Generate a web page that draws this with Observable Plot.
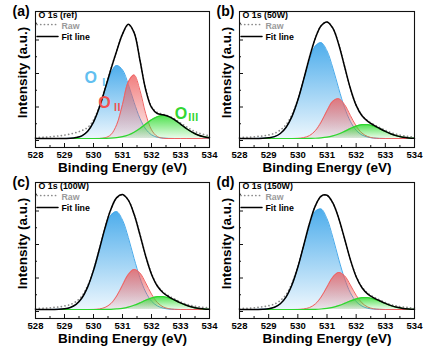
<!DOCTYPE html>
<html><head><meta charset="utf-8">
<script src="https://cdn.jsdelivr.net/npm/d3@7"></script>
<script src="https://cdn.jsdelivr.net/npm/@observablehq/plot@0.6"></script>
<style>
html,body{margin:0;padding:0;background:#fff;}
#fig{position:relative;width:427px;height:351px;overflow:hidden;background:#fff;}
#fig svg{position:absolute;}
</style></head><body><div id="fig"></div>
<script>
// Binding energy grid (eV)
const energy = [528.0,528.2,528.4,528.6,528.8,529.0,529.2,529.4,529.6,529.8,530.0,530.2,530.4,530.6,530.8,531.0,531.2,531.4,531.6,531.8,532.0,532.2,532.4,532.6,532.8,533.0,533.2,533.4,533.6,533.8,534.0];
const xTicks = [528,529,530,531,532,533,534];
const xMinorTicks = [528.5,529.5,530.5,531.5,532.5,533.5];
const yTicks = [-2,31.5,65,98.5];
const yMinorTicks = [14.75,48.25,81.75,115.25];

// (a) ref
const refOI   = [0,0,0,0,0,0.05,0.2,0.9,2.7,7.3,16.4,30.8,48.9,65.1,72.9,68.6,54.2,36.1,20.2,9.5,3.7,1.2,0.4,0.1,0,0,0,0,0,0,0];
const refOII  = [0,0,0,0,0,0,0,0,0,0,0,0.1,0.7,3.8,13.8,34.0,56.5,63.5,48.3,24.9,8.7,2.0,0.3,0,0,0,0,0,0,0,0];
const refOIII = [0,0,0,0,0,0,0,0,0,0,0,0,0.1,0.3,0.8,1.8,3.5,6.3,10.0,14.4,18.7,21.8,23.0,21.8,18.7,14.4,10.0,6.3,3.5,1.8,0.8];
const refFit  = [0,0,0,0,0,0.1,0.2,0.9,2.7,7.3,16.4,30.9,49.7,69.2,87.5,104.4,114.2,105.9,78.5,48.8,31.1,25.0,23.7,21.9,18.7,14.4,10.0,6.3,3.5,1.8,0.8];
const refRaw  = [1.0,1.2,1.5,2.0,2.6,3.4,4.5,6.0,8.0,11.0,18.5,32.0,50.5,69.5,88.0,104.5,113.5,106.0,79.0,49.5,32.0,26.0,24.2,22.3,19.5,15.5,11.8,8.4,5.8,4.0,2.8];

// (b) 50W
const w50OI   = [0,0,0,0.1,0.2,0.7,1.9,5.0,11.3,22.1,38.2,58.2,78.1,92.2,95.8,87.6,70.5,50.0,31.1,17.2,8.2,3.5,1.4,0.4,0.1,0,0,0,0,0,0];
const w50OII  = [0,0,0,0,0,0,0,0,0,0,0.2,0.9,2.9,7.8,16.4,27.7,37.2,39.8,34.0,23.1,12.5,5.4,1.9,0.5,0.1,0,0,0,0,0,0];
const w50OIII = [0,0,0,0,0,0,0,0,0,0,0,0,0.1,0.25,0.6,1.3,2.6,4.5,7.1,9.9,12.4,13.8,13.8,12.4,9.9,7.1,4.5,2.6,1.3,0.6,0.25];
const w50Fit  = [0,0,0,0.1,0.2,0.7,1.9,5.0,11.3,22.1,38.4,59.1,81.1,100.3,112.8,116.6,110.3,94.3,72.2,50.2,33.1,22.7,17.1,13.3,10.1,7.1,4.5,2.6,1.3,0.6,0.25];
const w50Raw  = [1.0,1.2,1.5,2.0,2.6,3.6,5.2,8.5,14.0,24.0,39.0,59.5,81.5,100.5,113.0,116.5,110.5,94.5,72.5,50.5,33.5,23.2,17.6,14.0,11.0,8.2,5.8,4.0,2.8,2.0,1.5];

// (c) 100W
const w100OI   = [0,0,0,0.1,0.2,0.7,2.0,5.1,11.5,22.6,39.0,59.4,79.7,94.1,97.8,89.4,72.0,51.0,31.8,17.5,8.4,3.6,1.4,0.4,0.1,0,0,0,0,0,0];
const w100OII  = [0,0,0,0,0,0,0,0,0,0,0.1,0.6,2.1,5.9,13.5,24.3,34.9,40.0,36.5,26.6,15.4,7.1,2.6,0.8,0.2,0,0,0,0,0,0];
const w100OIII = [0,0,0,0,0,0,0,0,0,0,0,0,0.1,0.2,0.6,1.2,2.4,4.2,6.6,9.2,11.5,12.8,12.8,11.5,9.2,6.6,4.2,2.4,1.2,0.6,0.2];
const w100Fit  = [0,0,0,0.1,0.2,0.7,2.0,5.1,11.5,22.6,39.1,60.0,81.9,100.2,111.9,114.9,109.3,95.2,74.9,53.3,35.3,23.5,16.8,12.7,9.5,6.6,4.2,2.4,1.2,0.6,0.2];
const w100Raw  = [1.0,1.2,1.5,2.0,2.6,3.5,5.0,8.0,13.5,24.0,39.5,60.0,82.0,100.0,111.5,114.5,109.5,95.5,75.5,54.0,36.0,24.2,17.5,13.5,10.4,7.6,5.4,3.8,2.8,2.1,1.6];

// (d) 150W
const w150OI   = [0,0,0,0.1,0.3,0.8,2.3,5.8,12.7,24.7,42.2,63.4,84.0,97.9,100.4,90.7,72.1,50.4,31.1,16.8,8.0,3.4,1.2,0.4,0.1,0,0,0,0,0,0];
const w150OII  = [0,0,0,0,0,0,0,0,0,0,0.1,0.6,1.9,5.5,12.5,22.5,32.3,37.0,33.8,24.6,14.2,6.6,2.4,0.7,0.2,0,0,0,0,0,0];
const w150OIII = [0,0,0,0,0,0,0,0,0,0,0,0,0.1,0.2,0.5,1.1,2.2,3.9,6.1,8.5,10.6,11.8,11.8,10.6,8.5,6.1,3.9,2.2,1.1,0.5,0.2];
const w150Fit  = [0,0,0,0.1,0.3,0.8,2.3,5.8,12.7,24.7,42.3,64.0,86.0,103.6,113.4,114.3,106.6,91.3,71.0,49.9,32.8,21.8,15.4,11.7,8.8,6.1,3.9,2.2,1.1,0.5,0.2];
const w150Raw  = [1.0,1.2,1.5,2.0,2.7,3.8,5.5,9.0,15.0,26.5,43.0,64.5,86.0,103.5,113.0,114.0,106.5,91.5,71.5,50.5,33.5,22.5,16.2,12.5,9.6,7.0,4.8,3.4,2.5,1.9,1.5];

const panelTags = ["(a)","(b)","(c)","(d)"];
const panelNames = ["O 1s (ref)","O 1s (50W)","O 1s (100W)","O 1s (150W)"];
const legendNames = ["Raw","Fit line"];
const peakNames = ["Ⅰ","Ⅱ","Ⅲ"];

const series = [
  [refOI, refOII, refOIII, refFit, refRaw],
  [w50OI, w50OII, w50OIII, w50Fit, w50Raw],
  [w100OI, w100OII, w100OIII, w100Fit, w100Raw],
  [w150OI, w150OII, w150OIII, w150Fit, w150Raw]
];

const yDomain = [-9, 127];
const FONT = "Liberation Sans, Arial, Helvetica, sans-serif";
const NS = "http://www.w3.org/2000/svg";
const curve = "catmull-rom";

function gradientDefs(id) {
  return () => {
    const defs = document.createElementNS(NS, "defs");
    const specs = [["b", "#3ea6ea", 0.92, 0.1], ["r", "#ee5e5e", 0.8, 0.1], ["g", "#33dd33", 0.88, 0.1]];
    for (const [k, c, o1, o2] of specs) {
      const g = document.createElementNS(NS, "linearGradient");
      g.setAttribute("id", id + k);
      g.setAttribute("x1", 0); g.setAttribute("y1", 0); g.setAttribute("x2", 0); g.setAttribute("y2", 1);
      for (const [off, op] of [[0, o1], [1, o2]]) {
        const s = document.createElementNS(NS, "stop");
        s.setAttribute("offset", off);
        s.setAttribute("stop-color", c);
        s.setAttribute("stop-opacity", op);
        g.appendChild(s);
      }
      defs.appendChild(g);
    }
    return defs;
  };
}

function legendLines(index, scales, values, dims) {
  const g = document.createElementNS(NS, "g");
  const x0 = dims.marginLeft + 2, x1 = dims.marginLeft + 23;
  const specs = [[dims.marginTop + 13.5, "#8a8a8a", "0.1 3.6", 1.7], [dims.marginTop + 25.5, "#000", null, 1.5]];
  for (const [y, c, dash, w] of specs) {
    const l = document.createElementNS(NS, "line");
    l.setAttribute("x1", x0); l.setAttribute("x2", x1);
    l.setAttribute("y1", y); l.setAttribute("y2", y);
    l.setAttribute("stroke", c); l.setAttribute("stroke-width", w);
    l.setAttribute("stroke-linecap", "round");
    if (dash) l.setAttribute("stroke-dasharray", dash);
    g.appendChild(l);
  }
  return g;
}

function makePanel(i, width) {
  const [oI, oII, oIII, fit, raw] = series[i];
  const rows = energy.map((e, k) => ({e, oI: oI[k], oII: oII[k], oIII: oIII[k], fit: fit[k], raw: raw[k]}));
  const id = "grad" + i;
  const xSpan = 534 - 528;
  const tickX = 4 * xSpan / (width - 39);
  const bold = {fontFamily: FONT, fontWeight: "bold", fill: "#000"};
  const marks = [
    gradientDefs(id),
    Plot.areaY(rows, {x: "e", y: "oI", fill: `url(#${id}b)`, curve}),
    Plot.lineY(rows, {x: "e", y: "oI", stroke: "#47a9ea", strokeWidth: 1, curve}),
    Plot.areaY(rows, {x: "e", y: "oII", fill: `url(#${id}r)`, curve}),
    Plot.lineY(rows, {x: "e", y: "oII", stroke: "#f06262", strokeWidth: 1, curve}),
    Plot.areaY(rows, {x: "e", y: "oIII", fill: `url(#${id}g)`, curve}),
    Plot.lineY(rows, {x: "e", y: "oIII", stroke: "#2fd62f", strokeWidth: 1.2, curve}),
    Plot.lineY(rows, {x: "e", y: "raw", stroke: "#8a8a8a", strokeWidth: 1.7, strokeDasharray: "0.1 3.6", strokeLinecap: "round", curve}),
    Plot.lineY(rows, {x: "e", y: "fit", stroke: "#000", strokeWidth: 1.5, curve}),
    Plot.frame({stroke: "#111", strokeWidth: 1.1}),
    Plot.ruleX(xTicks, {x: d => d, y1: yDomain[0], y2: yDomain[0] + 4, stroke: "#111"}),
    Plot.ruleX(xMinorTicks, {x: d => d, y1: yDomain[0], y2: yDomain[0] + 2, stroke: "#111"}),
    Plot.ruleY(yTicks, {y: d => d, x1: 528, x2: 528 + tickX, stroke: "#111"}),
    Plot.ruleY(yMinorTicks, {y: d => d, x1: 528, x2: 528 + tickX / 2, stroke: "#111"}),
    Plot.text(xTicks, {x: d => d, text: d => String(d), frameAnchor: "bottom", dy: 10, lineAnchor: "bottom", fontSize: 9.5, ...bold}),
    Plot.text(["Binding Energy (eV)"], {frameAnchor: "bottom", dy: 24, lineAnchor: "bottom", fontSize: 13.5, ...bold}),
    Plot.text(["Intensity (a.u.)"], {frameAnchor: "left", dx: -13, dy: -7, rotate: -90, textAnchor: "middle", lineAnchor: "middle", fontSize: 13.5, ...bold}),
    Plot.text([panelTags[i]], {frameAnchor: "top-left", dx: -23, dy: 4, textAnchor: "start", lineAnchor: "bottom", fontSize: 14, ...bold}),
    Plot.text([panelNames[i]], {frameAnchor: "top-left", dx: 3, dy: 6.5, textAnchor: "start", lineAnchor: "bottom", fontSize: 8.8, ...bold}),
    Plot.text([legendNames[0]], {frameAnchor: "top-left", dx: 26, dy: 17, textAnchor: "start", lineAnchor: "bottom", fontSize: 8.8, fontFamily: FONT, fontWeight: "bold", fill: "#9a9a9a"}),
    Plot.text([legendNames[1]], {frameAnchor: "top-left", dx: 26, dy: 28, textAnchor: "start", lineAnchor: "bottom", fontSize: 8.8, ...bold}),
    legendLines
  ];
  if (i === 0) {
    // peak component labels (panel a only)
    const labelPlacement = [
      {x: 529.9, y: 61, sub: peakNames[0], color: "#62bff0", dx: 8, dy: 5},
      {x: 530.38, y: 35.5, sub: peakNames[1], color: "#f05252", dx: 7.5, dy: 5},
      {x: 533.02, y: 25, sub: peakNames[2], color: "#33d633", dx: 7, dy: 4}
    ];
    for (const L of labelPlacement) {
      marks.push(Plot.text([L], {x: "x", y: "y", text: () => "O", fill: L.color, fontSize: 16, fontWeight: "bold", fontFamily: FONT, textAnchor: "middle", lineAnchor: "middle"}));
      marks.push(Plot.text([L], {x: "x", y: "y", text: "sub", fill: L.color, fontSize: 10.5, fontWeight: "bold", fontFamily: "Noto Sans CJK SC, DejaVu Sans, sans-serif", textAnchor: "start", lineAnchor: "middle", dx: L.dx, dy: L.dy}));
    }
  }
  return Plot.plot({
    width, height: 175,
    marginLeft: 35, marginRight: 4, marginTop: 11, marginBottom: 28,
    x: {domain: [528, 534], axis: null},
    y: {domain: yDomain, axis: null},
    style: {background: "transparent", overflow: "visible"},
    marks
  });
}

const fig = document.getElementById("fig");
const placement = [[0, 0, 213], [204, 0, 214], [0, 171, 213], [204, 171, 214]];
placement.forEach(([left, top, w], i) => {
  const svg = makePanel(i, w);
  svg.style.left = left + "px";
  svg.style.top = top + "px";
  fig.appendChild(svg);
});
</script></body></html>
